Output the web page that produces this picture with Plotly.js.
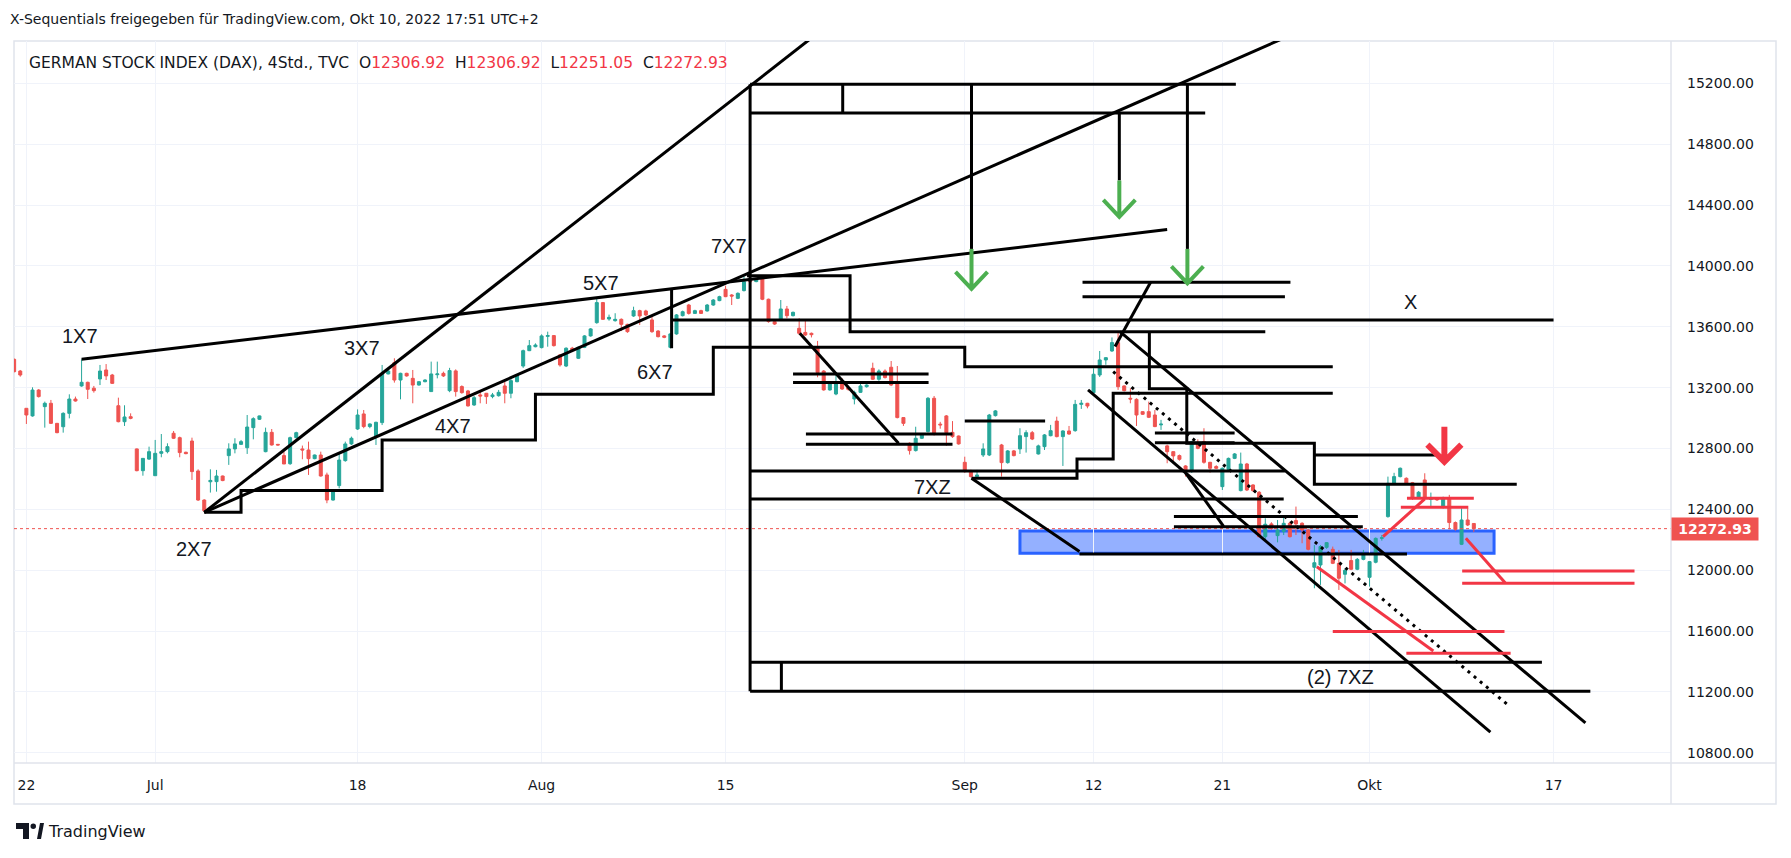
<!DOCTYPE html>
<html><head><meta charset="utf-8">
<script src="https://cdn.plot.ly/plotly-3.0.1.min.js"></script>
<style>html,body{margin:0;padding:0;background:#fff;}#chart{width:1791px;height:858px;}</style>
</head><body><div id="chart"></div>
<script>
// ---------- DATA (4h bars, first entry is two bars before Jun 22) ----------
const opens = [13386,13309,13064,13014,13184,13075,13097,12965,12943,13031,13125,13211,13235,13196,13257,13316,13283,13081,12976,13009,
12797,12654,12730,12621,12768,12779,12900,12871,12775,12849,12652,12461,12581,12582,12619,12753,12797,12827,12805,12937,
12992,12779,12906,12827,12753,12700,12871,12797,12790,12733,12757,12626,12461,12556,12720,12830,12928,13027,12944,12878,
12970,13290,13364,13250,13294,13261,13217,13239,13174,13285,13294,13180,13310,13207,13178,13086,13152,13163,13141,13147,
13211,13163,13239,13342,13443,13469,13463,13537,13542,13415,13342,13459,13393,13465,13540,13627,13759,13651,13640,13649,
13616,13671,13706,13704,13645,13572,13540,13465,13553,13673,13743,13688,13706,13704,13743,13772,13846,13809,13787,13838,
13903,13897,13919,13781,13634,13645,13717,13673,13590,13563,13557,13469,13309,13185,13158,13228,13200,13125,13169,13206,
13327,13255,13309,13334,13224,13003,12834,12786,12867,12911,13130,12960,13014,12906,12882,12709,12652,12615,12757,12757,
13016,12823,12707,12784,12797,12878,12904,12764,12812,12884,12980,12878,12915,12917,13090,13097,13167,13283,13382,13441,
13496,13211,13130,13123,13042,13042,13020,12955,12817,12779,12753,12685,12648,12834,12845,12709,12681,12549,12663,12735,
12523,12698,12560,12512,12220,12304,12227,12253,12308,12326,12308,12264,12019,12034,12150,12137,12045,11973,12063,12006,
12071,11953,12052,12209,12352,12571,12615,12604,12575,12473,12593,12465,12473,12413,12473,12313,12170,12330,12306.92];
const highs = [13392,13316,13064,13202,13190,13108,13119,12968,13038,13156,13141,13386,13239,13211,13349,13355,13290,13134,13084,13031,
12800,12735,12812,12856,12895,12834,12915,12878,12779,12871,12663,12466,12663,12659,12622,12834,12867,12856,13020,13005,
13016,12937,12928,12830,12779,12878,12910,12819,12845,12760,12779,12641,12525,12768,12845,12878,13057,13053,12965,12976,
13349,13320,13393,13298,13298,13316,13243,13255,13371,13371,13305,13330,13320,13215,13185,13145,13174,13165,13165,13185,
13239,13272,13290,13450,13513,13491,13550,13568,13545,13420,13465,13468,13470,13545,13592,13787,13763,13680,13689,13655,
13620,13732,13712,13712,13671,13578,13545,13560,13684,13706,13750,13712,13712,13750,13782,13804,13870,13815,13826,13947,
13910,13915,13925,13785,13640,13776,13737,13700,13656,13645,13562,13507,13315,13235,13299,13261,13210,13180,13228,13222,
13364,13320,13320,13375,13342,13005,12840,12943,12895,13138,13145,12975,13020,12980,12885,12746,12660,12659,12834,13027,
13053,12830,12790,12790,12933,12920,12915,12825,12895,12955,13009,12920,12948,13119,13119,13100,13327,13441,13400,13530,
13570,13215,13196,13130,13045,13108,13053,12988,12825,12781,12760,12690,12850,12860,12933,12712,12690,12675,12740,12770,
12773,12705,12565,12520,12341,12315,12330,12352,12319,12418,12315,12270,12165,12165,12185,12155,12133,12012,12133,12080,
12133,12060,12215,12231,12615,12640,12675,12610,12580,12520,12637,12510,12480,12483,12495,12320,12407,12407,12306.92];
const lows = [13300,13272,12961,13009,13135,12937,12961,12900,12904,12998,13108,13206,13125,13167,13217,13250,13224,12972,12948,12992,
12650,12621,12725,12621,12742,12768,12862,12742,12762,12593,12455,12380,12510,12516,12585,12692,12768,12823,12764,12860,
12987,12775,12819,12819,12698,12692,12867,12729,12626,12729,12615,12440,12457,12538,12713,12823,12922,12933,12933,12823,
12954,13287,13233,13123,13272,13097,13213,13235,13174,13261,13270,13170,13141,13160,13075,13080,13097,13093,13130,13141,
13097,13130,13235,13330,13440,13465,13458,13469,13470,13338,13335,13440,13388,13460,13535,13620,13645,13640,13634,13572,
13560,13665,13612,13670,13560,13530,13525,13458,13548,13668,13680,13684,13684,13700,13738,13768,13795,13743,13782,13832,
13830,13893,13775,13627,13612,13640,13656,13668,13546,13540,13530,13268,13180,13180,13150,13185,13180,13090,13165,13200,
13250,13245,13260,13210,12998,12948,12760,12780,12862,12905,12885,12930,12817,12870,12825,12640,12610,12610,12744,12750,
13010,12615,12700,12748,12764,12773,12855,12760,12790,12880,12873,12685,12890,12910,13060,13064,13160,13270,13350,13435,
13185,13175,13097,12948,13020,13000,12940,12922,12703,12718,12720,12615,12640,12795,12700,12641,12665,12527,12658,12730,
12518,12520,12515,12215,12199,12265,12183,12231,12215,12231,12177,12130,11881,11903,12140,12040,11870,11913,12000,12000,
12065,11892,12045,12194,12345,12565,12610,12565,12462,12468,12466,12422,12455,12405,12269,12260,12165,12290,12251.05];
const closes = [13305,13283,13020,13184,13141,13097,12965,12904,13031,13125,13112,13235,13189,13180,13309,13277,13228,12976,13007,12998,
12654,12735,12779,12768,12779,12812,12867,12773,12766,12648,12461,12391,12590,12619,12589,12797,12830,12845,12941,12996,
13014,12906,12823,12823,12698,12871,12904,12790,12733,12757,12619,12461,12521,12724,12830,12867,13020,12944,12961,12972,
13294,13309,13250,13294,13277,13217,13239,13250,13290,13290,13277,13312,13174,13167,13080,13134,13145,13141,13152,13169,
13163,13246,13283,13443,13476,13480,13540,13542,13476,13349,13459,13448,13465,13540,13586,13759,13649,13662,13649,13616,
13568,13706,13671,13678,13568,13535,13531,13553,13678,13699,13688,13706,13688,13743,13776,13798,13798,13802,13820,13897,
13897,13908,13781,13634,13618,13717,13673,13695,13557,13546,13548,13299,13185,13228,13228,13191,13189,13169,13211,13217,
13255,13309,13266,13217,13003,12965,12786,12867,12889,13130,12895,12955,12904,12878,12830,12648,12615,12626,12797,13020,
13047,12707,12784,12753,12884,12904,12862,12817,12889,12917,12878,12915,12895,13090,13097,13079,13288,13382,13397,13496,
13206,13180,13125,13020,13025,13005,12944,12960,12779,12751,12729,12648,12845,12801,12709,12670,12670,12670,12735,12764,
12698,12527,12523,12220,12302,12275,12264,12308,12220,12304,12264,12137,12049,12155,12181,12045,11947,11999,12006,12071,
12111,12056,12209,12213,12571,12615,12670,12571,12473,12512,12473,12473,12462,12473,12313,12269,12330,12297,12272.93];

const tickLabels = ["22","Jul","18","Aug","15","Sep","12","21","Okt","17"];
const tickBars   = [0,21,54,84,114,153,174,195,219,249];
const priceTicks = [10800,11200,11600,12000,12400,12800,13200,13600,14000,14400,14800,15200];
const lastPrice = 12272.93;

// drawings: [bar0, price0, bar1, price1]
const blackLines = [
 [9,13386,186,14239],[29,12380,133,15656],[29,12380,210,15586],
 [126.1,13557,142.2,12834],[154.1,12604,171.7,12122],[177.5,13470,183.3,13893],
 [189,12640,195.2,12288],[178.3,13568,254.2,10996],[173.1,13185,238.7,10935],
 [105.2,13645,249,13645],[105.2,13850,105.2,13459],
 [118,15195,197.2,15195],[118,15005,192.2,15005],[133.1,15195,133.1,15005],
 [118,15195,118,11204],[118,11394,247.1,11394],[118,11204,255,11204],[123.1,11394,123.1,11204],
 [154.1,15195,154.1,14112],[178.2,15005,178.2,14562],[189.3,15195,189.3,14112],
 [118,12652,205.2,12652],[118,12468,205,12468],
 [125,13290,147.1,13290],[125,13233,147.1,13233],[127.1,12895,151,12895],[127.1,12828,151,12828],
 [172.2,13893,206.1,13893],[172.2,13798,205.2,13798],[153,12981,166.1,12981],
 [184,12902,197,12902],[184,12837,197,12837],[187.1,12352,217.1,12352],[187.1,12286,217.9,12286],
 [171.7,12107,225.1,12107],[210,12757,230.5,12757]
];
const blackSteps = [
 [[29,12380],[35,12380],[35,12523],[58,12523],[58,12856],[83,12856],[83,13156],[112,13156],[112,13465],[153,13465],[153,13338],[213,13338]],
 [[117.5,13935],[134.3,13935],[134.3,13568],[202,13568]],
 [[154.1,12604],[171.3,12604],[171.3,12731],[177.2,12731],[177.2,13163],[213,13163]],
 [[183.1,13568],[183.1,13192],[189.2,13192],[189.2,12834],[210,12834],[210,12565],[243,12565]]
];
const dottedLines = [[177.2,13305,241.5,11116]];
const redLines = [
 [221.2,12220,228,12468],[225.1,12473,236,12473],[224.1,12414,235.1,12414],
 [234.7,12210,241.1,11918],[234.1,11995,262.2,11995],[234.1,11914,262.2,11914],
 [210.4,12023,229.4,11469],[213,11596,241,11596],[225,11454,242,11454]
];
const zoneBox = [162,12258,239.3,12111];
const greenArrows = [[154.1,14112,13849],[178.2,14562,14322],[189.3,14112,13886]];
const redArrows = [[231.2,12943,12713]];
const labelText = ["1X7","2X7","3X7","4X7","5X7","6X7","7X7","7XZ","X","(2) 7XZ"];
const labelBar  = [8.7,27.3,54.7,69.5,93.7,102.5,114.5,147.7,225.7,214.2];
const labelPrice= [13540,12140,13458,12946,13888,13300,14134,12549,13766,11296];

// ---------- LAYOUT ----------
const W=1791,H=858, L=14, R=120, T=41, B=95;
const pw=W-L-R, ph=H-T-B;
const xR=[-2.02,268.15], yR=[10732.3,15478.7];
const pxBar = pw/(xR[1]-xR[0]), pxPrice = ph/(yR[1]-yR[0]);
const px=(x)=>(x-L)/pw, py=(y)=>(H-B-y)/ph;

const xs = opens.map((_,k)=>k-2);
const candles = {
  type:'candlestick', x:xs, open:opens, high:highs, low:lows, close:closes,
  increasing:{line:{color:'#26a69a',width:1},fillcolor:'#26a69a'},
  decreasing:{line:{color:'#ef5350',width:1},fillcolor:'#ef5350'},
  whiskerwidth:0, hoverinfo:'skip', showlegend:false
};

const shapes=[];
const BLK='#000000', RED='#f23645';
shapes.push({type:'rect',xref:'x',yref:'y',x0:zoneBox[0],y0:zoneBox[1],x1:zoneBox[2],y1:zoneBox[3],
  line:{color:'#2962ff',width:3},fillcolor:'rgba(41,98,255,0.5)',layer:'below'});
shapes.push({type:'line',xref:'paper',yref:'y',x0:0,x1:1,y0:lastPrice,y1:lastPrice,line:{color:'#ef5350',width:1,dash:'dot'}});
blackLines.forEach(s=>shapes.push({type:'line',xref:'x',yref:'y',x0:s[0],y0:s[1],x1:s[2],y1:s[3],line:{color:BLK,width:3}}));
blackSteps.forEach(pts=>shapes.push({type:'path',xref:'x',yref:'y',
  path:'M '+pts.map(p=>p[0]+','+p[1]).join(' L '),line:{color:BLK,width:3}}));
dottedLines.forEach(s=>shapes.push({type:'line',xref:'x',yref:'y',x0:s[0],y0:s[1],x1:s[2],y1:s[3],line:{color:BLK,width:3,dash:'3px,5px'}}));
redLines.forEach(s=>shapes.push({type:'line',xref:'x',yref:'y',x0:s[0],y0:s[1],x1:s[2],y1:s[3],line:{color:RED,width:3}}));
function arrow(a,color,w,hwPx,hhPx){
  const hw=hwPx/pxBar, hh=hhPx/pxPrice;
  shapes.push({type:'path',xref:'x',yref:'y',
    path:`M ${a[0]},${a[1]} L ${a[0]},${a[2]} M ${a[0]-hw},${a[2]+hh} L ${a[0]},${a[2]} L ${a[0]+hw},${a[2]+hh}`,
    line:{color:color,width:w}});
}
greenArrows.forEach(a=>arrow(a,'#4caf50',4,16,17));
redArrows.forEach(a=>arrow(a,RED,6,17,17));

// pane borders
const bc='#e0e3eb';
shapes.push({type:'rect',xref:'paper',yref:'paper',x0:px(14),x1:px(1776),y0:py(804),y1:py(41),line:{color:bc,width:1.5},layer:'below'});
shapes.push({type:'line',xref:'paper',yref:'paper',x0:1,x1:1,y0:py(804),y1:py(41),line:{color:bc,width:1.5}});
shapes.push({type:'line',xref:'paper',yref:'paper',x0:px(14),x1:px(1776),y0:0,y1:0,line:{color:bc,width:1.5}});
// TradingView logo
shapes.push({type:'path',xref:'paper',yref:'paper',fillcolor:'#131722',line:{width:0},
  path:`M ${px(16)},${py(823)} L ${px(29)},${py(823)} L ${px(29)},${py(839)} L ${px(23)},${py(839)} L ${px(23)},${py(829)} L ${px(16)},${py(829)} Z`});
shapes.push({type:'circle',xref:'paper',yref:'paper',fillcolor:'#131722',line:{width:0},
  x0:px(30.5),x1:px(36),y0:py(829),y1:py(823.5)});
shapes.push({type:'path',xref:'paper',yref:'paper',fillcolor:'#131722',line:{width:0},
  path:`M ${px(37)},${py(839)} L ${px(40)},${py(823)} L ${px(44)},${py(823)} L ${px(41)},${py(839)} Z`});

const F='DejaVu Sans', ink='#131722';
const annotations = labelText.map((t,k)=>({xref:'x',yref:'y',x:labelBar[k],y:labelPrice[k],text:t,showarrow:false,
  font:{family:'Liberation Sans',size:20,color:ink}}));
annotations.push({xref:'paper',yref:'paper',x:px(8),y:py(19),xanchor:'left',yanchor:'middle',showarrow:false,
  text:'X-Sequentials freigegeben für TradingView.com, Okt 10, 2022 17:51 UTC+2',font:{family:F,size:14,color:ink}});
const rv=(s)=>`<span style="color:#f23645">${s}</span>`;
annotations.push({xref:'paper',yref:'paper',x:px(27),y:py(63),xanchor:'left',yanchor:'middle',showarrow:false,
  text:`GERMAN STOCK INDEX (DAX), 4Std., TVC  O${rv('12306.92')}  H${rv('12306.92')}  L${rv('12251.05')}  C${rv('12272.93')}`,
  font:{family:F,size:15.5,color:ink}});
annotations.push({xref:'paper',yref:'y',x:1,y:lastPrice,xanchor:'left',yanchor:'middle',showarrow:false,
  text:'<b>12272.93</b>',bgcolor:'#ef5350',font:{family:F,size:14,color:'#ffffff'},borderpad:3,width:80,align:'center'});
annotations.push({xref:'paper',yref:'paper',x:px(46),y:py(831),xanchor:'left',yanchor:'middle',showarrow:false,
  text:'TradingView',font:{family:F,size:16,color:ink}});

const layout = {
  width:W,height:H,margin:{l:L,r:R,t:T,b:B},paper_bgcolor:'#ffffff',plot_bgcolor:'#ffffff',
  showlegend:false, dragmode:false,
  xaxis:{type:'linear',range:xR,rangeslider:{visible:false},tickmode:'array',tickvals:tickBars,ticktext:tickLabels,
    showgrid:true,gridcolor:'#f0f3fa',gridwidth:1,zeroline:false,showline:false,ticks:'',ticklabelstandoff:12,
    tickfont:{family:F,size:14,color:ink},fixedrange:true},
  yaxis:{range:yR,side:'right',tickmode:'array',tickvals:priceTicks,ticktext:priceTicks.map(v=>v.toFixed(2)),
    showgrid:true,gridcolor:'#f0f3fa',gridwidth:1,zeroline:false,showline:false,ticks:'',ticklabelstandoff:15,
    tickfont:{family:F,size:14,color:ink},fixedrange:true},
  shapes:shapes, annotations:annotations
};
Plotly.newPlot('chart',[candles],layout,{staticPlot:true,displayModeBar:false});
</script></body></html>
